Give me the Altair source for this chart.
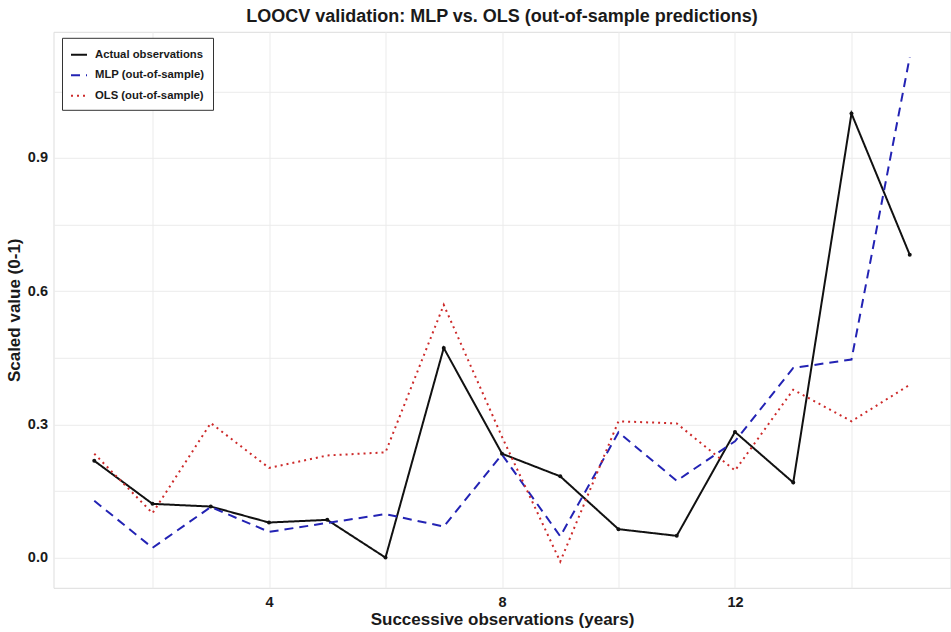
import altair as alt
import pandas as pd

# Successive observations (years) and scaled values (0-1)
years = list(range(1, 16))
actual = [0.218, 0.121, 0.115, 0.079, 0.085, 0.000, 0.472, 0.234, 0.183, 0.064, 0.049, 0.283, 0.169, 1.000, 0.682]
mlp = [0.128, 0.022, 0.114, 0.058, 0.078, 0.098, 0.070, 0.232, 0.048, 0.282, 0.173, 0.262, 0.427, 0.446, 1.127]
ols = [0.234, 0.100, 0.303, 0.202, 0.230, 0.237, 0.569, 0.272, -0.009, 0.307, 0.302, 0.196, 0.378, 0.307, 0.389]

series_names = ["Actual observations", "MLP (out-of-sample)", "OLS (out-of-sample)"]
series_colors = ["#111111", "#2323b4", "#cd2a2a"]
series_dashes = [[1, 0], [9, 6], [2, 4]]

rows = []
for name, vals in zip(series_names, [actual, mlp, ols]):
    for x, v in zip(years, vals):
        rows.append({"year": x, "value": v, "series": name})
df = pd.DataFrame(rows)
df_actual = df[df["series"] == series_names[0]]

x_grid = [2, 4, 6, 8, 10, 12, 14]
y_grid = [0.0, 0.15, 0.3, 0.45, 0.6, 0.75, 0.9, 1.05]

x_enc = alt.X(
    "year:Q",
    scale=alt.Scale(domain=[0.3, 15.7], nice=False, zero=False),
    axis=alt.Axis(
        title="Successive observations (years)",
        values=x_grid,
        labelExpr="datum.value % 4 == 0 ? datum.value : ''",
        ticks=False,
        domain=False,
        labelFontSize=14.5,
        labelFontWeight="bold",
        labelColor="#1a1a1a",
        labelPadding=8,
        titleFontSize=17,
        titleFontWeight="bold",
        titleColor="#1a1a1a",
        titlePadding=2,
        gridColor="#ebebeb",
        gridWidth=1,
    ),
)
y_enc = alt.Y(
    "value:Q",
    scale=alt.Scale(domain=[-0.068, 1.184], nice=False, zero=False),
    axis=alt.Axis(
        title="Scaled value (0-1)",
        values=y_grid,
        labelExpr="abs(datum.value*10 % 3) < 0.01 || abs(datum.value*10 % 3 - 3) < 0.01 ? format(datum.value, '.1f') : ''",
        ticks=False,
        domain=False,
        labelFontSize=14.5,
        labelFontWeight="bold",
        labelColor="#1a1a1a",
        labelPadding=6,
        titleFontSize=17,
        titleFontWeight="bold",
        titleColor="#1a1a1a",
        titlePadding=4,
        gridColor="#ebebeb",
        gridWidth=1,
    ),
)

lines = alt.Chart(df).mark_line(strokeWidth=2, strokeCap="butt").encode(
    x=x_enc,
    y=y_enc,
    color=alt.Color(
        "series:N",
        scale=alt.Scale(domain=series_names, range=series_colors),
        legend=alt.Legend(
            title=None,
            orient="none",
            legendX=8.5,
            legendY=6,
            strokeColor="#333333",
            fillColor="white",
            padding=8,
            symbolType="stroke",
            symbolSize=256,
            symbolStrokeWidth=2,
            labelFontSize=11.3,
            labelFontWeight="bold",
            labelColor="#1a1a1a",
            rowPadding=5.5,
            labelOffset=7,
        ),
    ),
    strokeDash=alt.StrokeDash(
        "series:N",
        scale=alt.Scale(domain=series_names, range=series_dashes),
        legend=None,
    ),
)

dots = alt.Chart(df_actual).mark_circle(size=16, color="#111111", opacity=1).encode(
    x="year:Q",
    y="value:Q",
)

chart = (
    alt.layer(lines, dots)
    .properties(
        width=897,
        height=556,
        padding={"left": 53.5, "top": 31.8, "right": 0.5, "bottom": 44.2},
        autosize=alt.AutoSizeParams(type="none"),
        title=alt.TitleParams(
            "LOOCV validation: MLP vs. OLS (out-of-sample predictions)",
            fontSize=18,
            fontWeight="bold",
            color="#1a1a1a",
            anchor="middle",
            offset=6,
        ),
    )
    .configure_view(stroke=None)
    .configure(font="Liberation Sans", background="white")
)

chart.save("out.html", embed_options={"renderer": "svg", "actions": False})
